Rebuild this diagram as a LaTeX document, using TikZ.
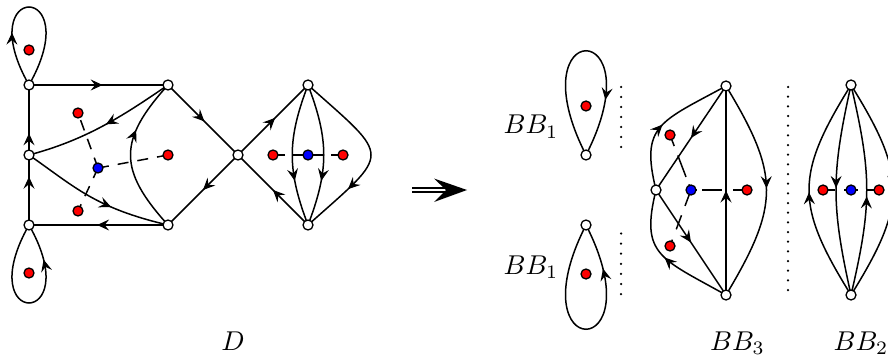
\documentclass[tikz,border=0pt]{standalone}
\usetikzlibrary{arrows.meta,decorations.markings,backgrounds}
\tikzset{
  x=1pt,y=-1pt,
  wv/.style={circle,draw=black,fill=white,line width=1.3pt,inner sep=0pt,minimum size=10pt},
  rv/.style={wv,fill=red},
  bv/.style={wv,fill=blue},
  ed/.style={draw=black,line width=1.5pt},
  ar/.style={ed,postaction={decorate,decoration={markings,mark=at position #1 with {\arrow[line width=1pt]{Stealth[length=12pt,width=11pt,inset=4.5pt]}}}}},
  dsh/.style={draw=black,line width=1.5pt,dash pattern=#1},
  lab/.style={anchor=base,scale=2.72,inner sep=0pt},
  dt/.style={fill=black,circle,inner sep=0pt,minimum size=2.5pt},
}
\begin{document}
\begin{tikzpicture}
\useasboundingbox (0,0) rectangle (888,358);
% D nodes
\node[wv] (a1) at (29,85) {};
\node[wv] (a2) at (29,155) {};
\node[wv] (a3) at (29,225) {};
\node[wv] (a4) at (168,85) {};
\node[wv] (a5) at (168,225) {};
\node[wv] (a6) at (238,155) {};
\node[wv] (a7) at (308,85) {};
\node[wv] (a8) at (308,225) {};
\node[rv] (r1) at (29,50) {};
\node[rv] (r2) at (29,273) {};
\node[rv] (r3) at (78,113) {};
\node[rv] (r4) at (78,211) {};
\node[rv] (r5) at (168,155) {};
\node[rv] (r6) at (273,155) {};
\node[rv] (r7) at (343,155) {};
\node[bv] (b1) at (98,168) {};
\node[bv] (b2) at (308,155) {};
% BB1
\node[wv] (c1) at (586,155) {};
\node[rv] (c2) at (586,106) {};
\node[wv] (c3) at (586,225) {};
\node[rv] (c4) at (586,274) {};
% BB3
\node[wv] (d1) at (726,86) {};
\node[wv] (d2) at (656,190) {};
\node[wv] (d3) at (726,295) {};
\node[bv] (d4) at (691,190) {};
\node[rv] (d5) at (670,135) {};
\node[rv] (d6) at (670,246) {};
\node[rv] (d7) at (747,190) {};
% BB2
\node[wv] (e1) at (851,85) {};
\node[wv] (e2) at (851,295) {};
\node[bv] (e3) at (851,190) {};
\node[rv] (e4) at (823,190) {};
\node[rv] (e5) at (879,190) {};
% labels
\node[lab] (l1) at (233,350) {$D$};
\node[lab] (l2) at (531,134) {$BB_1$};
\node[lab] (l3) at (531,274) {$BB_1$};
\node[lab] (l4) at (737.5,350) {$BB_3$};
\node[lab] (l5) at (861,350) {$BB_2$};
% dotted separators
\foreach \i in {0,...,6} {\node[dt] (p\i) at (621,87+10*\i) {};}
\foreach \i in {0,...,6} {\node[dt] (q\i) at (621,233.5+10.1*\i) {};}
\foreach \i in {0,...,21} {\node[dt] (s\i) at (788,87+9.67*\i) {};}
% implication arrow
\coordinate (i1) at (412,190);
\coordinate (i2) at (446,190);
\coordinate (i3) at (467,190);
\coordinate (i4) at (434,178.5);
\coordinate (i5) at (434,202);
\begin{pgfonlayer}{background}
\clip (0,0) rectangle (888,358);
% D loops
\path[ar=0.31] (a1.center) .. controls (-30,-19) and (88,-19) .. (a1.center);
\path[ar=0.79] (a3.center) .. controls (-30,329) and (88,329) .. (a3.center);
% D straight
\path[ar=0.53] (a1.center) -- (a4.center);
\path[ar=0.31] (a2.center) -- (a1.center);
\path[ar=0.69] (a3.center) -- (a2.center);
\path[ar=0.51] (a5.center) -- (a3.center);
\path[ar=0.52] (a4.center) -- (a6.center);
\path[ar=0.5] (a6.center) -- (a5.center);
\path[ar=0.53] (a6.center) -- (a7.center);
\path[ar=0.5] (a8.center) -- (a6.center);
% D curves
\path[ar=0.47] (a4.center) .. controls (120,118) and (85,140) .. (a2.center);
\path[ar=0.62] (a2.center) .. controls (75,187) and (95,208) .. (a5.center);
\path[ar=0.66] (a5.center) .. controls (118,170) and (118,140) .. (a4.center);
\path[ar=0.68] (a7.center) .. controls (287,140) and (287,170) .. (a8.center);
\path[ar=0.68] (a7.center) .. controls (329,140) and (329,170) .. (a8.center);
\path[ar=0.72] (a7.center) .. controls (392,160) and (392,150) .. (a8.center);
% D dashed
\path[dsh={on 11 off 9}] (b1.center) -- (r3.center);
\path[dsh={on 11 off 9}] (b1.center) -- (r4.center);
\path[dsh={on 11 off 9}] (b1.center) -- (r5.center);
\path[dsh={on 15 off 8}] (b2.center) -- (r6.center);
\path[dsh={on 15 off 8}] (b2.center) -- (r7.center);
% BB1
\path[ar=0.75] (c1.center) .. controls (515,16) and (657,16) .. (c1.center);
\path[ar=0.8] (c3.center) .. controls (515,364) and (657,364) .. (c3.center);
% BB3
\path[ar=0.5] (d1.center) -- (d2.center);
\path[ar=0.5] (d2.center) -- (d3.center);
\path[ar=0.5] (d3.center) -- (d1.center);
\path[ar=0.49] (d1.center) .. controls (780,175) and (780,205) .. (d3.center);
\path[ar=0.48] (d2.center) .. controls (640,125) and (660,122) .. (d1.center);
\path[ar=0.5] (d3.center) .. controls (660,258) and (640,255) .. (d2.center);
\path[dsh={on 6 off 8 on 23 off 10 on 12 off 5}] (d4.center) -- (d5.center);
\path[dsh={on 17 off 10 on 15 off 11 on 10 off 5}] (d4.center) -- (d6.center);
\path[dsh={on 6 off 5 on 20 off 11 on 20 off 5}] (d4.center) -- (d7.center);
% BB2
\path[ar=0.49] (e2.center) .. controls (795,205) and (795,175) .. (e1.center);
\path[ar=0.49] (e1.center) .. controls (831,175) and (831,205) .. (e2.center);
\path[ar=0.47] (e2.center) .. controls (872,205) and (872,175) .. (e1.center);
\path[ar=0.49] (e1.center) .. controls (907,175) and (907,205) .. (e2.center);
\path[dsh={on 7 off 9 on 12 off 5}] (e3.center) -- (e4.center);
\path[dsh={on 7 off 9 on 12 off 5}] (e3.center) -- (e5.center);
% implication
\draw[line width=1.3pt,double,double distance=2.6pt] (i1) -- (i2);
\fill (i3) -- (i4) -- (i2) -- (i5) -- cycle;
\end{pgfonlayer}
\end{tikzpicture}
\end{document}
